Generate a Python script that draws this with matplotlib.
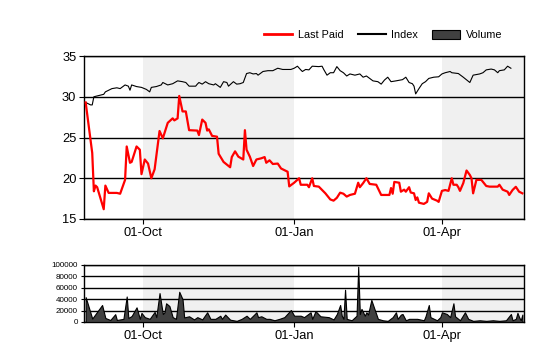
import matplotlib
matplotlib.use("Agg")
import matplotlib.pyplot as plt
import matplotlib.dates as mdates
from matplotlib.patches import Patch
from matplotlib.lines import Line2D
import pandas as pd

plt.rcParams['font.family'] = ['Liberation Sans', 'DejaVu Sans']

# Last Paid price
paid_dates = [
    "2012-08-27", "2012-08-31", "2012-09-01", "2012-09-02", "2012-09-03", "2012-09-07",
    "2012-09-08", "2012-09-10", "2012-09-15", "2012-09-17", "2012-09-20", "2012-09-21",
    "2012-09-23", "2012-09-24", "2012-09-27", "2012-09-29", "2012-09-30", "2012-10-02",
    "2012-10-04", "2012-10-06", "2012-10-08", "2012-10-11", "2012-10-13", "2012-10-16",
    "2012-10-19", "2012-10-20", "2012-10-22", "2012-10-23", "2012-10-25", "2012-10-27",
    "2012-10-29", "2012-11-03", "2012-11-04", "2012-11-06", "2012-11-08", "2012-11-09",
    "2012-11-10", "2012-11-12", "2012-11-15", "2012-11-16", "2012-11-19", "2012-11-23",
    "2012-11-24", "2012-11-26", "2012-11-28", "2012-12-01", "2012-12-02", "2012-12-03",
    "2012-12-05", "2012-12-07", "2012-12-09", "2012-12-12", "2012-12-14", "2012-12-15",
    "2012-12-17", "2012-12-19", "2012-12-22", "2012-12-24", "2012-12-28", "2012-12-29",
    "2013-01-01", "2013-01-04", "2013-01-05", "2013-01-09", "2013-01-10", "2013-01-12",
    "2013-01-13", "2013-01-16", "2013-01-20", "2013-01-23", "2013-01-25", "2013-01-27",
    "2013-01-29", "2013-01-31", "2013-02-02", "2013-02-04", "2013-02-07", "2013-02-09",
    "2013-02-10", "2013-02-12", "2013-02-14", "2013-02-16", "2013-02-20", "2013-02-23",
    "2013-02-28", "2013-03-01", "2013-03-02", "2013-03-03", "2013-03-06", "2013-03-07",
    "2013-03-09", "2013-03-10", "2013-03-12", "2013-03-13", "2013-03-15", "2013-03-16",
    "2013-03-17", "2013-03-18", "2013-03-21", "2013-03-23", "2013-03-24", "2013-03-26",
    "2013-03-29", "2013-03-30", "2013-04-01", "2013-04-03", "2013-04-05", "2013-04-07",
    "2013-04-08", "2013-04-10", "2013-04-11", "2013-04-12", "2013-04-14", "2013-04-16",
    "2013-04-18", "2013-04-19", "2013-04-20", "2013-04-22", "2013-04-25", "2013-04-28",
    "2013-04-30", "2013-05-05", "2013-05-06", "2013-05-08", "2013-05-11", "2013-05-12",
    "2013-05-14", "2013-05-16", "2013-05-18", "2013-05-20",
]
paid = [
    29.3, 23.1, 18.4, 19.1, 18.9, 16.2,
    19.1, 18.2, 18.2, 18.1, 19.8, 23.9,
    21.9, 22.0, 23.9, 23.5, 20.5, 22.3,
    21.8, 20.0, 21.1, 25.8, 24.9, 26.8,
    27.35, 27.1, 27.35, 30.1, 28.2, 28.2,
    25.9, 25.85, 25.3, 27.2, 26.8, 25.85,
    26.0, 25.2, 25.1, 23.0, 22.0, 21.35,
    22.6, 23.3, 22.65, 22.3, 25.9, 23.5,
    22.65, 21.5, 22.3, 22.45, 22.6, 21.9,
    22.2, 21.75, 21.8, 21.2, 20.8, 19.0,
    19.45, 20.0, 19.2, 19.2, 18.9, 20.0,
    19.05, 18.97, 18.15, 17.4, 17.25, 17.6,
    18.23, 18.1, 17.75, 17.95, 18.1, 19.45,
    18.9, 19.4, 20.0, 19.3, 19.2, 17.95,
    17.95, 18.8, 18.1, 19.55, 19.45, 18.35,
    18.6, 18.35, 18.9, 18.25, 18.15, 17.33,
    17.65, 17.0, 16.85, 17.1, 18.15, 17.5,
    17.25, 17.1, 18.45, 18.55, 18.45, 20.0,
    19.2, 19.2, 18.9, 18.45, 19.4, 20.95,
    20.4, 20.0, 18.15, 19.8, 19.8, 19.05,
    18.97, 18.97, 19.2, 18.6, 18.35, 17.95,
    18.55, 18.95, 18.35, 18.15,
]

# Index
index_dates = [
    "2012-08-27", "2012-08-30", "2012-08-31", "2012-09-01", "2012-09-03", "2012-09-07",
    "2012-09-08", "2012-09-12", "2012-09-15", "2012-09-17", "2012-09-20", "2012-09-22",
    "2012-09-23", "2012-09-24", "2012-09-27", "2012-09-30", "2012-10-03", "2012-10-05",
    "2012-10-06", "2012-10-09", "2012-10-12", "2012-10-13", "2012-10-16", "2012-10-19",
    "2012-10-22", "2012-10-25", "2012-10-27", "2012-10-29", "2012-11-02", "2012-11-03",
    "2012-11-04", "2012-11-06", "2012-11-08", "2012-11-10", "2012-11-13", "2012-11-14",
    "2012-11-17", "2012-11-19", "2012-11-21", "2012-11-22", "2012-11-25", "2012-11-27",
    "2012-11-29", "2012-12-01", "2012-12-03", "2012-12-05", "2012-12-07", "2012-12-09",
    "2012-12-10", "2012-12-13", "2012-12-16", "2012-12-19", "2012-12-22", "2012-12-25",
    "2012-12-30", "2013-01-01", "2013-01-03", "2013-01-05", "2013-01-06", "2013-01-08",
    "2013-01-10", "2013-01-12", "2013-01-16", "2013-01-18", "2013-01-19", "2013-01-21",
    "2013-01-23", "2013-01-25", "2013-01-27", "2013-01-29", "2013-01-31", "2013-02-02",
    "2013-02-04", "2013-02-07", "2013-02-10", "2013-02-12", "2013-02-14", "2013-02-16",
    "2013-02-18", "2013-02-21", "2013-02-23", "2013-02-25", "2013-02-27", "2013-03-01",
    "2013-03-04", "2013-03-08", "2013-03-10", "2013-03-12", "2013-03-14", "2013-03-15",
    "2013-03-16", "2013-03-18", "2013-03-20", "2013-03-22", "2013-03-24", "2013-03-27",
    "2013-03-30", "2013-04-01", "2013-04-03", "2013-04-06", "2013-04-07", "2013-04-11",
    "2013-04-14", "2013-04-18", "2013-04-20", "2013-04-24", "2013-04-26", "2013-04-28",
    "2013-05-01", "2013-05-03", "2013-05-05", "2013-05-06", "2013-05-09", "2013-05-11",
    "2013-05-13",
]
index = [
    29.3, 29.0, 29.0, 30.0, 30.1, 30.3,
    30.6, 31.0, 31.1, 31.0, 31.45, 31.3,
    30.8, 31.45, 31.25, 31.15, 30.9, 30.6,
    31.15, 31.25, 31.45, 31.75, 31.45, 31.6,
    31.95, 31.85, 31.75, 31.3, 31.3, 31.55,
    31.75, 31.55, 31.85, 31.6, 31.45, 31.6,
    31.15, 31.85, 31.75, 31.3, 31.85, 31.55,
    31.6, 31.75, 32.85, 32.95, 32.8, 32.85,
    32.65, 33.1, 33.2, 33.2, 33.5, 33.35,
    33.35, 33.5, 33.75, 33.3, 33.1, 33.35,
    33.3, 33.75, 33.7, 33.75, 33.35, 32.65,
    32.95, 32.95, 33.7, 33.2, 32.95, 32.55,
    32.8, 32.65, 32.8, 32.4, 32.55, 32.25,
    31.95, 31.85, 31.55, 32.05, 32.4, 31.85,
    31.95, 32.1, 32.4, 31.75, 31.6, 31.3,
    30.35, 31.0, 31.6, 31.85, 32.25, 32.4,
    32.45, 32.8, 32.95, 33.1, 32.95, 32.85,
    32.4, 31.75, 32.65, 32.8, 32.95, 33.3,
    33.4, 33.3, 32.95, 33.2, 33.3, 33.75,
    33.5,
]

# Volume
vol_dates = [
    "2012-08-27", "2012-08-31", "2012-09-06", "2012-09-08", "2012-09-11", "2012-09-14",
    "2012-09-15", "2012-09-19", "2012-09-21", "2012-09-22", "2012-09-24", "2012-09-27",
    "2012-09-29", "2012-09-30", "2012-10-02", "2012-10-05", "2012-10-08", "2012-10-09",
    "2012-10-11", "2012-10-13", "2012-10-14", "2012-10-15", "2012-10-17", "2012-10-19",
    "2012-10-21", "2012-10-23", "2012-10-25", "2012-10-26", "2012-10-29", "2012-11-01",
    "2012-11-03", "2012-11-06", "2012-11-09", "2012-11-11", "2012-11-14", "2012-11-17",
    "2012-11-18", "2012-11-20", "2012-11-23", "2012-11-27", "2012-11-30", "2012-12-03",
    "2012-12-05", "2012-12-08", "2012-12-09", "2012-12-10", "2012-12-12", "2012-12-15",
    "2012-12-17", "2012-12-20", "2012-12-23", "2012-12-26", "2012-12-30", "2013-01-01",
    "2013-01-05", "2013-01-07", "2013-01-11", "2013-01-12", "2013-01-14", "2013-01-17",
    "2013-01-22", "2013-01-25", "2013-01-27", "2013-01-29", "2013-01-30", "2013-01-31",
    "2013-02-01", "2013-02-02", "2013-02-05", "2013-02-08", "2013-02-09", "2013-02-10",
    "2013-02-11", "2013-02-13", "2013-02-14", "2013-02-15", "2013-02-17", "2013-02-19",
    "2013-02-21", "2013-02-24", "2013-02-27", "2013-03-02", "2013-03-04", "2013-03-05",
    "2013-03-07", "2013-03-08", "2013-03-10", "2013-03-12", "2013-03-17", "2013-03-21",
    "2013-03-22", "2013-03-24", "2013-03-25", "2013-03-29", "2013-03-31", "2013-04-01",
    "2013-04-04", "2013-04-06", "2013-04-08", "2013-04-09", "2013-04-12", "2013-04-15",
    "2013-04-17", "2013-04-20", "2013-04-24", "2013-04-28", "2013-05-02", "2013-05-06",
    "2013-05-10", "2013-05-13", "2013-05-14", "2013-05-16", "2013-05-17", "2013-05-18",
    "2013-05-19", "2013-05-20",
]
volume = [
    43600, 6000, 29800, 7000, 3500, 13700,
    3500, 5500, 44700, 7000, 10500, 25700,
    5500, 16000, 8500, 5500, 17700, 8500,
    50700, 14000, 17000, 32800, 28000, 8500,
    5500, 53000, 40000, 8000, 10000, 4500,
    8500, 4500, 17000, 5500, 5500, 11000,
    5500, 13000, 4000, 2000, 5500, 11000,
    5500, 14000, 17000, 8500, 10000, 5500,
    5500, 3000, 5500, 8500, 21000, 11000,
    11000, 8500, 17000, 5500, 19000, 10000,
    8500, 4500, 14000, 29800, 11000, 5500,
    56600, 5500, 3000, 11000, 97000, 14000,
    23000, 11000, 17000, 13000, 38700, 22000,
    5500, 3000, 2000, 8500, 17000, 5500,
    13000, 14000, 3000, 5500, 5500, 3000,
    10000, 29800, 8500, 3000, 8500, 17000,
    14000, 8500, 32800, 10000, 3000, 17000,
    5500, 2000, 3000, 2000, 3000, 2000,
    3000, 14000, 3000, 5500, 16000, 8500,
    3000, 13000,
]

shade_periods = [("2012-10-01", "2013-01-01"), ("2013-04-01", "2013-06-30")]
tick_dates = ["2012-10-01", "2013-01-01", "2013-04-01"]
x_start, x_end = "2012-08-26", "2013-05-21"

paid_dates = pd.to_datetime(paid_dates)
index_dates = pd.to_datetime(index_dates)
vol_dates = pd.to_datetime(vol_dates)

fig = plt.figure(figsize=(5.4, 3.6), dpi=100)
ax1 = fig.add_axes([0.1556, 0.3917, 0.8148, 0.4527])
ax2 = fig.add_axes([0.1556, 0.1056, 0.8148, 0.1583])

for ax in (ax1, ax2):
    for a, b in shade_periods:
        ax.axvspan(pd.Timestamp(a), pd.Timestamp(b), color='#f0f0f0', lw=0, zorder=0)
    ax.set_xlim(pd.Timestamp(x_start), pd.Timestamp(x_end))
    ax.set_xticks(pd.to_datetime(tick_dates))
    ax.xaxis.set_major_formatter(mdates.DateFormatter('%d-%b'))
    ax.yaxis.grid(True, color='black', lw=1.0, zorder=1)
    ax.set_axisbelow(True)
    for s in ax.spines.values():
        s.set_color('black')
        s.set_linewidth(1.0)
    ax.tick_params(axis='both', length=3.5, width=0.8, color='black', pad=2)

ax1.plot(index_dates, index, color='black', lw=0.8, zorder=3)
ax1.plot(paid_dates, paid, color='#ff0000', lw=1.6, zorder=4)
ax1.set_ylim(15, 35)
ax1.set_yticks([15, 20, 25, 30, 35])
ax1.tick_params(axis='both', labelsize=9.3)

ax2.fill_between(vol_dates, volume, 0, facecolor='#404040', edgecolor='black', lw=0.8, zorder=3)
ax2.set_ylim(0, 100000)
ax2.set_yticks([0, 20000, 40000, 60000, 80000, 100000])
ax2.tick_params(axis='y', labelsize=5.8, length=2.5)
ax2.tick_params(axis='x', labelsize=9.3)

handles = [
    Line2D([], [], color='#ff0000', lw=2),
    Line2D([], [], color='black', lw=1.5),
    Patch(facecolor='#404040', edgecolor='black', lw=0.8),
]
fig.legend(handles, ["Last Paid", "Index", "Volume"], loc='center right',
           bbox_to_anchor=(0.948, 0.903), ncol=3, frameon=False, fontsize=7.8,
           handlelength=2.6, handleheight=0.9, handletextpad=0.5, columnspacing=1.3)

fig.savefig("out.png", dpi=100)
